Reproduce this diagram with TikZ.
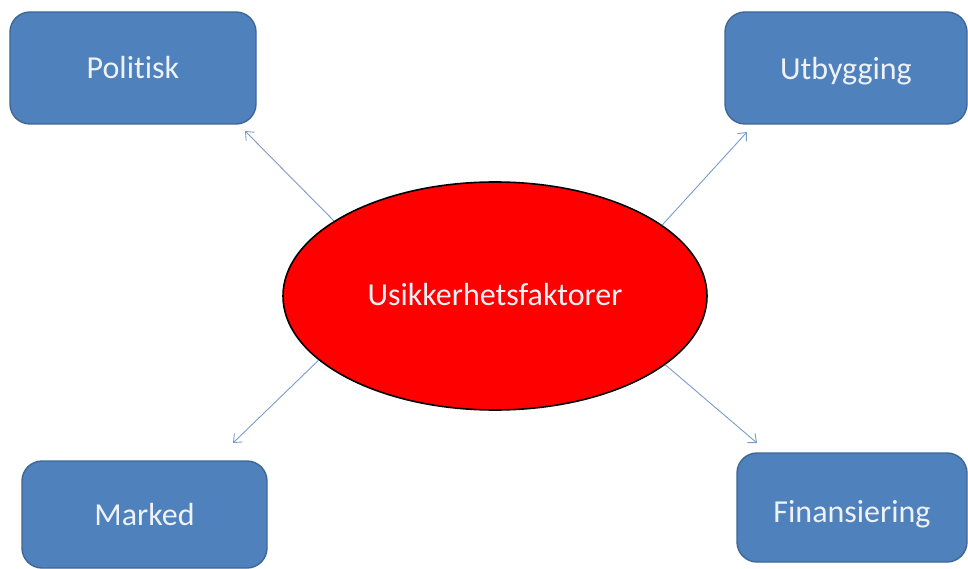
\documentclass[tikz,border=0pt]{standalone}
\usepackage{fontspec}
\setmainfont{Carlito}[Ligatures=NoCommon]
\usetikzlibrary{shapes.geometric,arrows.meta}
\definecolor{boxfill}{HTML}{4F81BD}
\definecolor{boxline}{HTML}{3E6796}
\definecolor{arrowc}{HTML}{7B9BCB}
\definecolor{txt}{HTML}{EEF2F6}
\tikzset{
  box/.style={draw=boxline, line width=1.4pt, fill=boxfill, rounded corners=20pt,
    inner sep=0pt, text=txt, font=\fontsize{32}{38}\selectfont,
    text height=21pt, text depth=0pt},
  oval/.style={ellipse, draw=black, line width=1.6pt, fill=red, inner sep=0pt,
    minimum width=424pt, minimum height=228pt, text=txt, font=\fontsize{32}{38}\selectfont,
    text height=18pt, text depth=0pt},
  arr/.style={draw=arrowc, line width=0.9pt, -{Straight Barb[length=7pt,width=12pt,line width=0.9pt]}}
}
\begin{document}
\begin{tikzpicture}[x=1pt,y=-1pt]
\useasboundingbox (0,0) rectangle (968,569);
\node[box, minimum width=246pt, minimum height=112pt] (pol) at (133,68) {Politisk};
\node[box, minimum width=242pt, minimum height=112pt, text height=24pt] (utb) at (846,68) {Utbygging};
\node[box, minimum width=245pt, minimum height=107pt] (mar) at (144.5,514.5) {Marked};
\node[box, minimum width=230pt, minimum height=109pt, text height=29pt] (fin) at (852,507.5) {Finansiering};
\node[oval] (e) at (495,296) {Usikkerhetsfaktorer};
\coordinate (t1) at (245,131);
\coordinate (t2) at (747,132);
\coordinate (t3) at (233,443);
\coordinate (t4) at (757,443);
\draw[arr] (e.155) -- (t1);
\draw[arr] (e.23.5) -- (t2);
\draw[arr] (e.200) -- (t3);
\draw[arr] (e.-22.5) -- (t4);
\end{tikzpicture}
\end{document}
